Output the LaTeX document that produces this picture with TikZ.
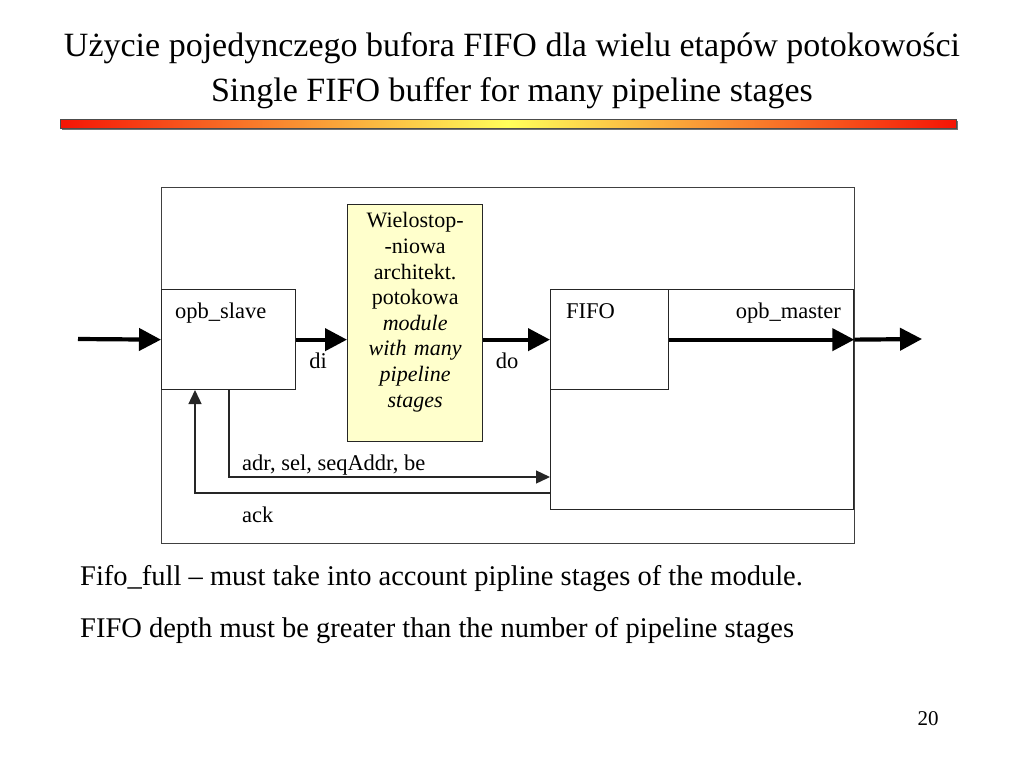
\documentclass[tikz,border=0pt]{standalone}
\usepackage{fontspec}
\setmainfont{Liberation Serif}
\usetikzlibrary{arrows.meta}
\definecolor{barred}{RGB}{245,20,5}
\definecolor{baryel}{RGB}{255,255,90}
\definecolor{pipefill}{RGB}{255,255,204}
\begin{document}
\begin{tikzpicture}[x=1pt,y=-1pt,
    box/.style={draw=black!85,line width=1.3pt,inner sep=0pt,anchor=north west},
    lbl/.style={inner sep=0pt,font=\fontsize{22.5}{26}\selectfont},
    bus/.style={line width=4.2pt,-{Triangle[length=22pt,width=22pt]}},
    sig/.style={draw=black!85,line width=1.3pt,-{Triangle[length=14pt,width=13pt]}},
    txt/.style={inner sep=0pt,anchor=base west,font=\fontsize{28.5}{32}\selectfont}]
  \useasboundingbox (0,0) rectangle (1024,768);
  % title
  \node[inner sep=0pt,align=center,font=\fontsize{34}{45}\selectfont] (title) at (512,71)
    {Użycie pojedynczego bufora FIFO dla wielu etapów potokowości\\Single FIFO buffer for many pipeline stages};
  \fill[black!55] (62,121) rectangle (958,130);
  \shade[left color=barred,right color=barred,middle color=baryel,draw=black!70,line width=0.8pt]
    (60,119) rectangle (956,128);
  % boxes
  \node[box,draw=black!75,line width=1pt,minimum width=693,minimum height=356] (frame) at (161,187) {};
  \node[box,minimum width=134,minimum height=100] (slave) at (161,289) {};
  \node[box,fill=pipefill,minimum width=135,minimum height=237] (pipe) at (347,204) {};
  \node[box,minimum width=303,minimum height=220] (master) at (550,289) {};
  \node[box,minimum width=118,minimum height=100] (fifo) at (550,289) {};
  \node[lbl,align=center,text width=132,yshift=11pt,font=\fontsize{22}{25.6}\selectfont] (pipetxt) at (pipe.center)
    {Wielostop-\\-niowa\\architekt.\\potokowa\\\textit{module}\\\textit{with many}\\\textit{pipeline}\\\textit{stages}};
  % labels
  \node[lbl,anchor=base west] (slavetxt) at (175,318) {opb\_slave};
  \node[lbl,anchor=base west] (fifotxt) at (566,318) {FIFO};
  \node[lbl,anchor=base east] (mastertxt) at (841,318) {opb\_master};
  \node[lbl,anchor=base] (di) at (318,368) {di};
  \node[lbl,anchor=base] (do) at (507,368) {do};
  \node[lbl,anchor=base west] (adrtxt) at (242,470) {adr, sel, seqAddr, be};
  \node[lbl,anchor=base west] (acktxt) at (242,522) {ack};
  % connectors
  \coordinate (in) at (78,339);
  \coordinate (out) at (922,339);
  \coordinate (adr) at (229,389);
  \coordinate (adrend) at (550,477);
  \coordinate (ack) at (195,390);
  \coordinate (ackstart) at (550,493);
  \draw[bus] (in) -- (slave.west);
  \draw[bus] (slave.east) -- (slave.east -| pipe.west);
  \draw[bus] (pipe.east |- fifo.east) -- (fifo.west);
  \draw[bus] (fifo.east) -- (fifo.east -| master.east);
  \draw[bus] (fifo.east -| master.east) -- (out);
  \draw[sig] (adr) |- (adrend);
  \draw[sig] (ackstart) -| (ack);
  % text
  \node[txt] (note1) at (80,585) {Fifo\_full – must take into account pipline stages of the module.};
  \node[txt] (note2) at (80,637) {FIFO depth must be greater than the number of pipeline stages};
  \node[inner sep=0pt,anchor=base,font=\fontsize{21}{24}\selectfont] (page) at (928,725) {20};
\end{tikzpicture}
\end{document}
